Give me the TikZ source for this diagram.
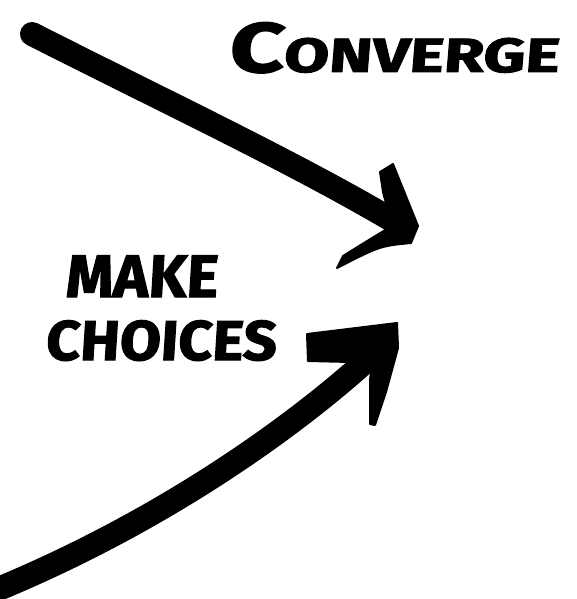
\documentclass[tikz,border=0pt]{standalone}
\usepackage{fontspec}
\newfontfamily\markerfont[FakeBold=2,FakeSlant=0.06]{Fira Sans}
\usetikzlibrary{positioning}

\begin{document}
\begin{tikzpicture}[
x=1pt, y=-1pt,
    shaft/.style = {line width=24pt, line cap=round, draw=black},% thick marker stroke
     head/.style = {fill=black, draw=black, line width=2pt, line join=round},
    label/.style = {font=\markerfont\bfseries, anchor=base west, inner sep=0pt,
                    text=black},
                        ]
\useasboundingbox (0,0) rectangle (577,599);
% end points of the two arrows
\coordinate (top start) at (32,34);
\coordinate (top tip)   at (402,226);
\coordinate (low start) at (-14,594);
\coordinate (low tip)   at (378,350);
% upper arrow
\draw[shaft] (top start) .. controls (170,104) and (300,165) .. (top tip);
\fill[head] (380,172) -- (393,164) -- (418,226) -- (411,243)
    .. controls (380,246) .. (337,268) -- (343,256)
    .. controls (372,238) .. (392,226) -- (383,192) -- cycle;
% lower arrow
\draw[shaft] (low start) .. controls (150,528) and (290,432) .. (low tip);
\fill[head] (307,334) -- (397,323) -- (398,348) -- (386,392) -- (375,425)
    -- (370,424) -- (370,380) -- (372,364) -- (350,362) -- (308,361) -- cycle;
% texts
\node[label] (converge) at (228,72) {\scalebox{1.36}[1]{\fontsize{70}{70}\selectfont C\fontsize{48}{48}\selectfont ONVERGE}};
\node[label] (make)     at (65,297) {\fontsize{60}{60}\selectfont MAKE};
\node[label] (choices)  at (45,360) {\scalebox{1.06}[1]{\fontsize{56}{56}\selectfont CHOICES}};
\end{tikzpicture}
\end{document}
